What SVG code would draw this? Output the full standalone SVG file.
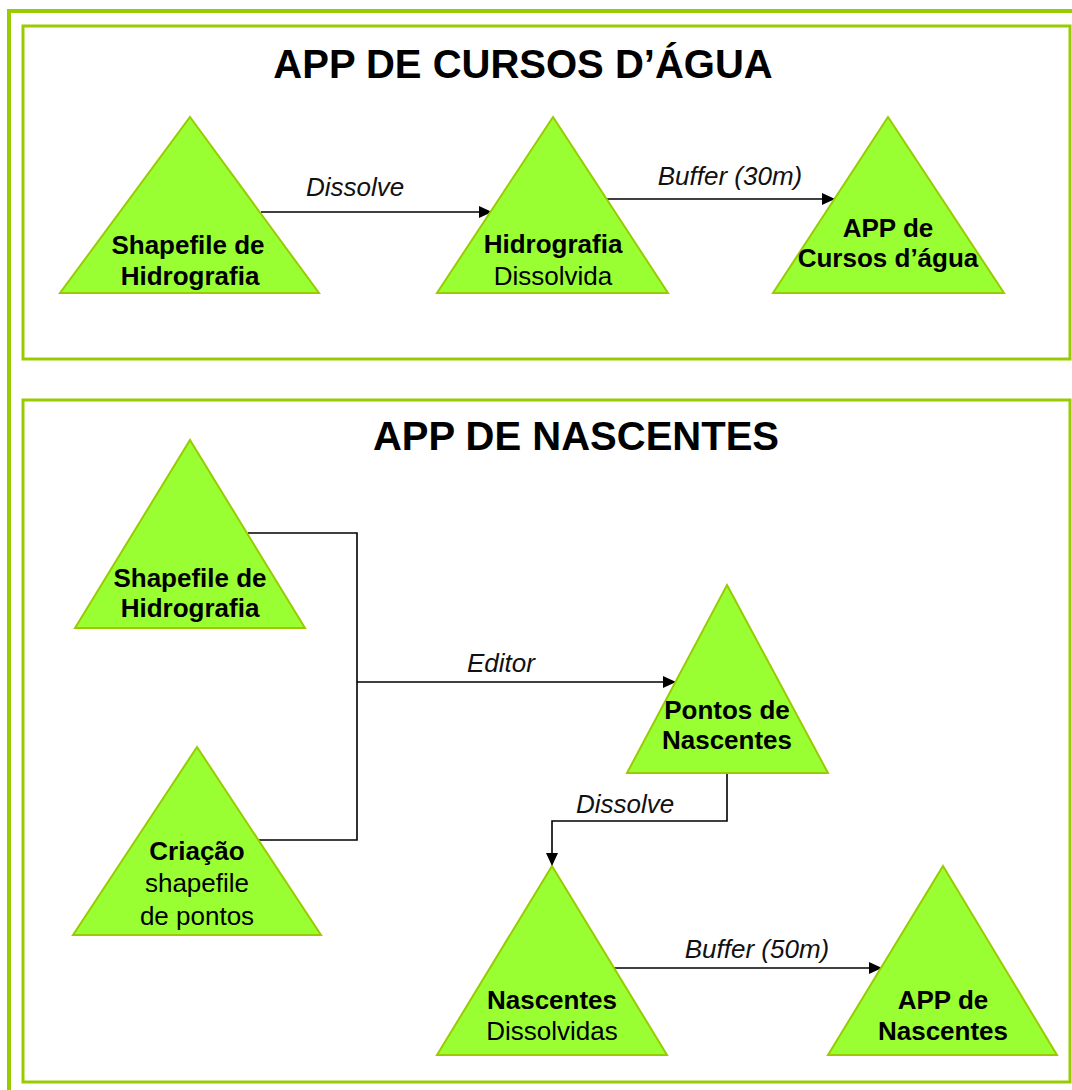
<svg xmlns="http://www.w3.org/2000/svg" width="1072" height="1090" viewBox="0 0 1072 1090">
<style>
.frame{fill:none;stroke:#99cc00}
.tri{fill:#99ff33;stroke:#99cc00;stroke-width:2;stroke-linejoin:miter}
.title{font-family:"Liberation Sans",Arial,sans-serif;font-weight:bold;font-size:40px;fill:#000;text-anchor:middle}
.b{font-family:"Liberation Sans",Arial,sans-serif;font-weight:bold;font-size:26px;fill:#000;text-anchor:middle}
.r{font-family:"Liberation Sans",Arial,sans-serif;font-size:26px;fill:#000;text-anchor:middle}
.lbl{font-family:"Liberation Sans",Arial,sans-serif;font-style:italic;font-size:26px;fill:#111;text-anchor:middle}
.con{fill:none;stroke:#000;stroke-width:1.6}
</style>
<defs>
<marker id="ah" markerUnits="userSpaceOnUse" markerWidth="14" markerHeight="12" refX="13" refY="6" orient="auto">
<path d="M0,0 L13,6 L0,12 z" fill="#000"/>
</marker>
</defs>
<rect width="1072" height="1090" fill="#fff"/>
<rect class="frame" x="9" y="11" width="1100" height="1120" stroke-width="4"/>
<rect class="frame" x="23" y="26" width="1047" height="333" stroke-width="3"/>
<rect class="frame" x="23" y="400" width="1047" height="682" stroke-width="3"/>
<text class="title" x="523" y="78">APP DE CURSOS D’ÁGUA</text>
<text class="title" x="576" y="450">APP DE NASCENTES</text>
<g id="connectors">
<line class="con" x1="261" y1="212" x2="492" y2="212" marker-end="url(#ah)"/>
<text class="lbl" x="355" y="196">Dissolve</text>
<line class="con" x1="607" y1="199" x2="835" y2="199" marker-end="url(#ah)"/>
<text class="lbl" x="730" y="185">Buffer (30m)</text>
<polyline class="con" points="248,533 357,533 357,840 258,840"/>
<line class="con" x1="357" y1="682" x2="676" y2="682" marker-end="url(#ah)"/>
<text class="lbl" x="501" y="672">Editor</text>
<polyline class="con" points="727,773 727,821 552,821 552,866" marker-end="url(#ah)"/>
<text class="lbl" x="625" y="813">Dissolve</text>
<line class="con" x1="613" y1="968" x2="882" y2="968" marker-end="url(#ah)"/>
<text class="lbl" x="757" y="958">Buffer (50m)</text>
</g>
<g id="n1">
<polygon class="tri" points="190,117 319,293 60,293"/>
<text class="b" x="188" y="254">Shapefile de</text>
<text class="b" x="190" y="285">Hidrografia</text>
</g>
<g id="n2">
<polygon class="tri" points="553,117 668,293 437,293"/>
<text class="b" x="553" y="253">Hidrografia</text>
<text class="r" x="553" y="285">Dissolvida</text>
</g>
<g id="n3">
<polygon class="tri" points="888,117 1004,293 773,293"/>
<text class="b" x="888" y="237">APP de</text>
<text class="b" x="888" y="267">Cursos d’água</text>
</g>
<g id="n4">
<polygon class="tri" points="190,440 305,628 75,628"/>
<text class="b" x="190" y="587">Shapefile de</text>
<text class="b" x="190" y="617">Hidrografia</text>
</g>
<g id="n5">
<polygon class="tri" points="197,747 321,935 73,935"/>
<text class="b" x="197" y="860">Criação</text>
<text class="r" x="197" y="892">shapefile</text>
<text class="r" x="197" y="925">de pontos</text>
</g>
<g id="n6">
<polygon class="tri" points="727,585 828,773 627,773"/>
<text class="b" x="727" y="719">Pontos de</text>
<text class="b" x="727" y="749">Nascentes</text>
</g>
<g id="n7">
<polygon class="tri" points="552,866 667,1055 437,1055"/>
<text class="b" x="552" y="1009">Nascentes</text>
<text class="r" x="552" y="1040">Dissolvidas</text>
</g>
<g id="n8">
<polygon class="tri" points="943,866 1057,1055 828,1055"/>
<text class="b" x="943" y="1009">APP de</text>
<text class="b" x="943" y="1040">Nascentes</text>
</g>
</svg>
